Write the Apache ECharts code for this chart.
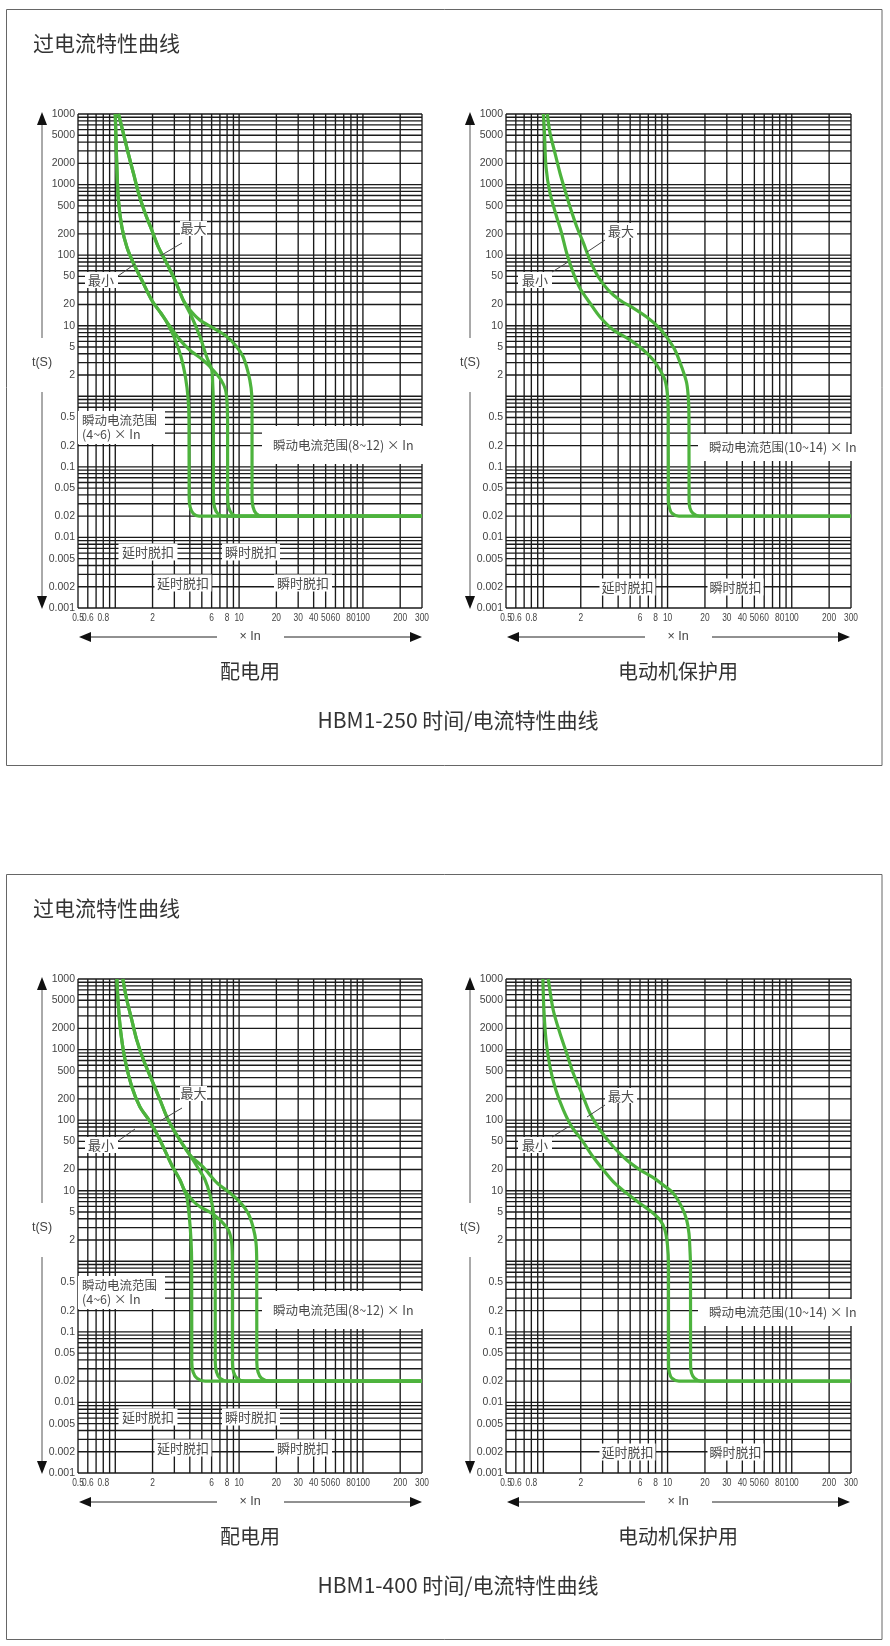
<!DOCTYPE html>
<html><head><meta charset="utf-8">
<script src="https://cdn.jsdelivr.net/npm/echarts@6/dist/echarts.min.js"></script>
<style>html,body{margin:0;padding:0;background:#fff}#c{width:890px;height:1646px}</style>
</head><body><div id="c"></div>
<script>
// ---------- tick labels ----------
const xTickLabels = [0.5,0.6,0.8,2,6,8,10,20,30,40,50,60,80,100,200,300];
const yTickLabels = [10000,5000,2000,1000,500,200,100,50,20,10,5,2,0.5,0.2,0.1,0.05,0.02,0.01,0.005,0.002,0.001];
const yTickText = {10000:'1000'}; // top label as printed in the reference

// ---------- curves: [multiple of In, time s] ----------
// HBM1-250, 配电用
const dist250_A = [[1.0,10000],[1.01,5400],[1.03,1770],[1.06,600],[1.13,250],[1.24,130],[1.40,77],[1.64,44],[1.97,23],[2.34,15],[2.55,12],[3.0,6.8],[3.4,3.6],[3.7,1.8],[3.87,0.95],[3.94,0.46],[3.95,0.037],[4.02,0.027],[4.25,0.022],[4.75,0.02],[300,0.02]];
const dist250_B = [[1.0,10000],[1.01,5400],[1.03,1770],[1.06,600],[1.13,250],[1.24,130],[1.40,77],[1.64,44],[1.97,23],[2.34,15],[2.55,12],[3.33,6.3],[4.01,4.5],[5.11,3.27],[6.16,2.36],[7.15,1.70],[7.77,1.23],[7.99,0.83],[8.07,0.46],[8.08,0.037],[8.22,0.027],[8.69,0.022],[9.62,0.02],[300,0.02]];
const dist250_C = [[1.06,10000],[1.16,5400],[1.27,2800],[1.40,1460],[1.54,760],[1.74,395],[1.97,227],[2.23,130],[2.60,77],[3.04,44],[3.54,23],[4.14,13.4],[4.83,7.0],[5.48,3.6],[6.01,2.36],[6.12,1.54],[6.19,0.88],[6.2,0.46],[6.2,0.037],[6.33,0.027],[6.69,0.022],[7.42,0.02],[300,0.02]];
const dist250_D = [[1.06,10000],[1.16,5400],[1.27,2800],[1.40,1460],[1.54,760],[1.74,395],[1.97,227],[2.23,130],[2.60,77],[3.04,44],[3.54,23],[4.01,16.7],[4.83,12],[6.16,9.3],[7.84,7.15],[9.45,5.16],[10.8,3.6],[11.8,2.21],[12.5,1.31],[12.7,0.83],[12.72,0.46],[12.72,0.037],[12.96,0.027],[13.7,0.022],[15.3,0.02],[300,0.02]];
// HBM1-250, 电动机保护用
const motor250_min = [[1.0,10000],[1.02,5400],[1.05,1770],[1.13,760],[1.28,347],[1.40,206],[1.54,107],[1.74,56],[1.97,34],[2.37,21],[2.86,13.3],[3.66,8.7],[4.98,6.3],[6.38,4.53],[7.67,3.27],[8.69,2.36],[9.53,1.70],[9.95,1.11],[10.13,0.64],[10.15,0.034],[10.36,0.026],[10.85,0.022],[12.35,0.02],[300,0.02]];
const motor250_max = [[1.075,10000],[1.13,5400],[1.24,2800],[1.36,1460],[1.49,840],[1.64,480],[1.86,250],[2.10,149],[2.37,85],[2.77,49],[3.33,32],[4.14,23],[5.30,17.8],[6.79,13.3],[8.42,9.6],[9.84,6.9],[11.47,4.53],[12.99,2.6],[14.25,1.54],[14.73,0.88],[14.87,0.46],[14.9,0.034],[15.15,0.026],[16.0,0.022],[18.2,0.02],[300,0.02]];
// HBM1-400, 配电用
const dist400_A = [[1.03,10000],[1.06,4050],[1.11,1700],[1.20,711],[1.36,298],[1.58,155],[1.91,95],[2.30,52],[2.86,23],[3.33,14.2],[3.6,10.2],[3.78,8.2],[3.96,4.3],[4.09,2.0],[4.14,0.94],[4.15,0.037],[4.25,0.027],[4.57,0.022],[5.31,0.02],[300,0.02]];
const dist400_B = [[1.03,10000],[1.06,4050],[1.11,1700],[1.20,711],[1.36,298],[1.58,155],[1.91,95],[2.30,52],[2.86,23],[3.33,14.2],[3.62,10.2],[4.25,7.15],[4.83,5.93],[6.01,4.79],[7.01,3.85],[8.19,2.78],[8.72,1.80],[8.82,0.94],[8.83,0.037],[9.02,0.027],[9.62,0.022],[11.17,0.02],[300,0.02]];
const dist400_C = [[1.15,10000],[1.24,5040],[1.36,2620],[1.49,1370],[1.69,711],[1.97,371],[2.30,193],[2.68,100],[3.33,52],[4.01,32],[4.66,21],[5.31,14.2],[5.82,8.7],[6.22,4.83],[6.39,2.36],[6.41,0.88],[6.42,0.037],[6.57,0.027],[7.01,0.022],[8.14,0.02],[300,0.02]];
const dist400_D = [[1.15,10000],[1.24,5040],[1.36,2620],[1.49,1370],[1.69,711],[1.97,371],[2.30,193],[2.68,100],[3.33,52],[4.01,32],[5.11,21.7],[6.63,12.9],[8.45,9.3],[10.17,6.9],[11.8,4.83],[12.96,3.06],[13.7,1.82],[13.88,0.93],[13.9,0.037],[14.22,0.027],[15.18,0.022],[17.8,0.02],[300,0.02]];
// HBM1-400, 电动机保护用
const motor400_min = [[0.99,10000],[1.01,3640],[1.05,1370],[1.13,572],[1.26,267],[1.45,139],[1.69,81],[2.04,52],[2.52,30],[3.04,19.7],[3.77,12.7],[4.69,9.2],[6.0,6.6],[7.45,5.0],[8.69,3.85],[9.53,2.78],[9.98,1.70],[10.17,0.88],[10.18,0.034],[10.36,0.026],[10.85,0.022],[12.35,0.02],[300,0.02]];
const motor400_max = [[1.095,10000],[1.20,3640],[1.36,1700],[1.54,885],[1.74,461],[2.04,240],[2.37,125],[2.86,72.5],[3.66,42],[4.69,27.2],[6.0,19.7],[7.45,15.8],[9.24,12],[11.1,9.2],[12.99,5.9],[14.25,3.85],[14.87,2.49],[15.15,1.45],[15.3,0.88],[15.32,0.034],[15.6,0.026],[16.5,0.022],[18.6,0.02],[300,0.02]];

// ---------- texts ----------
const boxTitle = '过电流特性曲线';
const modelTitles = ['HBM1-250 时间/电流特性曲线','HBM1-400 时间/电流特性曲线'];
const panelTitles = ['配电用','电动机保护用'];

// ---------- layout ----------
const GREEN = '#4db33d';
const CJK = '"Noto Sans CJK SC", "Liberation Sans", sans-serif';
const NUM = '"Liberation Sans", "DejaVu Sans", sans-serif';
const BOX_DY = 865;
const X_MIN = 0.5, X_MAX = 300, Y_MIN = 0.001, Y_MAX = 10000;
const panels = [
  {left:78, top:114, width:344, curves:[dist250_A,dist250_B,dist250_C,dist250_D]},
  {left:506, top:114, width:345, curves:[motor250_min,motor250_max]},
  {left:78, top:114+BOX_DY, width:344, curves:[dist400_A,dist400_B,dist400_C,dist400_D]},
  {left:506, top:114+BOX_DY, width:345, curves:[motor400_min,motor400_max]}
];

// grid line values (log paper: 1..9 per decade)
const xGridValues = [];
[0.1,1,10,100].forEach(d => { for (let m=1;m<=9;m++){ const v=+(m*d).toPrecision(3); if (v>=X_MIN && v<=X_MAX) xGridValues.push(v);} });
const yGridValues = [];
[0.001,0.01,0.1,1,10,100,1000].forEach(d => { for (let m=1;m<=9;m++) yGridValues.push(+(m*d).toPrecision(3)); });
yGridValues.push(Y_MAX);
// [x, y, kind]  kind 0 = vertical line at x, 1 = horizontal line at y
const gridItems = xGridValues.map(v=>[v, Y_MIN, 0]).concat(yGridValues.map(v=>[X_MIN, v, 1]));

function findTick(arr, v){ return arr.find(t => Math.abs(t - v) / t < 1e-3); }

const GRID_STYLE = {stroke:'#1a1a1a', lineWidth:1.35};
function renderGrid(params, api){
  const kind = api.value(2);
  if (kind === 0) {
    const x = api.value(0);
    const a = api.coord([x, Y_MIN]), b = api.coord([x, Y_MAX]);
    return {type:'line', shape:{x1:a[0], y1:b[1], x2:a[0], y2:a[1]}, style:GRID_STYLE};
  }
  const y = api.value(1);
  const a = api.coord([X_MIN, y]), b = api.coord([X_MAX, y]);
  return {type:'line', shape:{x1:a[0], y1:a[1], x2:b[0], y2:a[1]}, style:GRID_STYLE};
}
function renderXLabel(params, api){
  const v = api.value(0);
  const p = api.coord([v, Y_MIN]);
  return {type:'text', x:p[0], y:p[1] + 10, scaleX:0.8,
    style:{text:String(findTick(xTickLabels, v)), fill:'#444', font:'10.5px ' + NUM, textAlign:'center', textVerticalAlign:'middle'}};
}

const grids=[], xAxes=[], yAxes=[], series=[];
panels.forEach((p,i)=>{
  grids.push({left:p.left, top:p.top, width:p.width, height:494, show:false});
  xAxes.push({type:'log', gridIndex:i, min:X_MIN, max:X_MAX, logBase:10,
    axisLine:{show:false}, axisTick:{show:false}, splitLine:{show:false}, minorSplitLine:{show:false},
    axisLabel:{show:false}});
  yAxes.push({type:'log', gridIndex:i, min:Y_MIN, max:Y_MAX, logBase:10,
    axisLine:{show:false}, axisTick:{show:false}, splitLine:{show:false}, minorSplitLine:{show:false},
    axisLabel:{customValues:yTickLabels, hideOverlap:false, showMinLabel:true, showMaxLabel:true, margin:3,
      color:'#444', fontSize:10.5, fontFamily:NUM,
      formatter:v=>{const k=findTick(yTickLabels,v); if(k===undefined) return ''; return (k in yTickText)?yTickText[k]:String(k);}}});
  series.push({type:'custom', xAxisIndex:i, yAxisIndex:i, data:gridItems, dimensions:['x','y','kind'],
    encode:{x:0, y:1}, renderItem:renderGrid, silent:true, z:2, clip:false});
  series.push({type:'custom', xAxisIndex:i, yAxisIndex:i, data:xTickLabels.map(v=>[v, Y_MIN]),
    encode:{x:0, y:1}, renderItem:renderXLabel, silent:true, z:3, clip:false});
  p.curves.forEach(c=>{
    series.push({type:'line', xAxisIndex:i, yAxisIndex:i, data:c, symbol:'none', showSymbol:false, smooth:0.3,
      silent:true, z:5, lineStyle:{color:GREEN, width:3.2}});
  });
});

// ---------- decorations ----------
const G=[];
function rect(x,y,w,h,dy){ G.push({type:'rect', z:20, shape:{x:x,y:y+dy,width:w,height:h}, style:{fill:'#fff'}}); }
function txt(s,x,y,dy,opt){ opt=opt||{}; G.push({type:'text', z:21, style:{text:s, x:x, y:y+dy, fill:opt.fill||'#4a4a4a',
  font:(opt.size||12.5)+'px '+(opt.family||CJK), textAlign:opt.align||'center', textVerticalAlign:'middle'}}); }
function line(x1,y1,x2,y2,dy,c){ G.push({type:'line', z:21, shape:{x1:x1,y1:y1+dy,x2:x2,y2:y2+dy}, style:{stroke:c||'#555', lineWidth:1}}); }
function poly(pts,dy){ G.push({type:'polygon', z:21, shape:{points:pts.map(p=>[p[0],p[1]+dy])}, style:{fill:'#111'}}); }
function label(s,cx,cy,w,dy){ rect(cx-w/2, cy-8.5, w, 17, dy); txt(s,cx,cy,dy,{size:13}); }

[0,1].forEach(b=>{
  const dy = b*BOX_DY;
  const h = b===0 ? 756 : 765;
  G.push({type:'rect', z:1, shape:{x:6.5,y:9.5+dy,width:875.5,height:h}, style:{fill:null, stroke:'#666', lineWidth:1}});
  txt(boxTitle, 33, 43, dy, {align:'left', size:21, fill:'#333'});
  txt(modelTitles[b], 458, 720, dy, {size:21, fill:'#333'});
  [0,428].forEach((ox,pi)=>{
    poly([[42+ox,112],[37+ox,125],[47+ox,125]], dy);
    line(42+ox,125,42+ox,338,dy,'#555');
    line(42+ox,392,42+ox,597,dy,'#555');
    poly([[42+ox,609],[37+ox,596],[47+ox,596]], dy);
    txt('t(S)', 42+ox, 363, dy, {size:12.5, family:NUM, fill:'#444'});
    poly([[79+ox,637],[91+ox,632],[91+ox,642]], dy);
    line(91+ox,637,217+ox,637,dy,'#222');
    line(284+ox,637,410+ox,637,dy,'#222');
    poly([[422+ox,637],[410+ox,632],[410+ox,642]], dy);
    txt('× In', 250+ox, 637, dy, {size:12.5, family:NUM, fill:'#444'});
    txt(panelTitles[pi], 250+ox, 671, dy, {size:20, fill:'#333'});
  });
  rect(180,221,27,15,dy); txt('最大',193.5,228.5,dy,{size:13}); line(182,243,160,256,dy,'#444');
  rect(85,272,33,16,dy); txt('最小',101,280,dy,{size:13}); line(118,276,135,264,dy,'#444');
  rect(78,411,87,33,dy); txt('瞬动电流范围',82,420,dy,{align:'left'}); txt('(4~6) × In',82,434,dy,{align:'left'});
  rect(262,426,162,38,dy); txt('瞬动电流范围(8~12) × In',273,445,dy,{align:'left'});
  label('延时脱扣',148,552,59,dy);
  label('瞬时脱扣',251,552,58,dy);
  label('延时脱扣',183,583,57,dy);
  label('瞬时脱扣',303,583,58,dy);
  rect(605,223,32,15,dy); txt('最大',621,231,dy,{size:13}); line(605,240,587,252,dy,'#444');
  rect(518,272,34,16,dy); txt('最小',535,280,dy,{size:13}); line(552,272,568,262,dy,'#444');
  rect(698,434,164,27,dy); txt('瞬动电流范围(10~14) × In',709,447,dy,{align:'left'});
  label('延时脱扣',627.5,587,56,dy);
  label('瞬时脱扣',735.5,587,56,dy);
});

const chart = echarts.init(document.getElementById('c'), null, {renderer:'canvas'});
chart.setOption({
  animation:false, backgroundColor:'#fff',
  grid:grids, xAxis:xAxes, yAxis:yAxes, series:series,
  graphic:{elements:G}
});
</script></body></html>
